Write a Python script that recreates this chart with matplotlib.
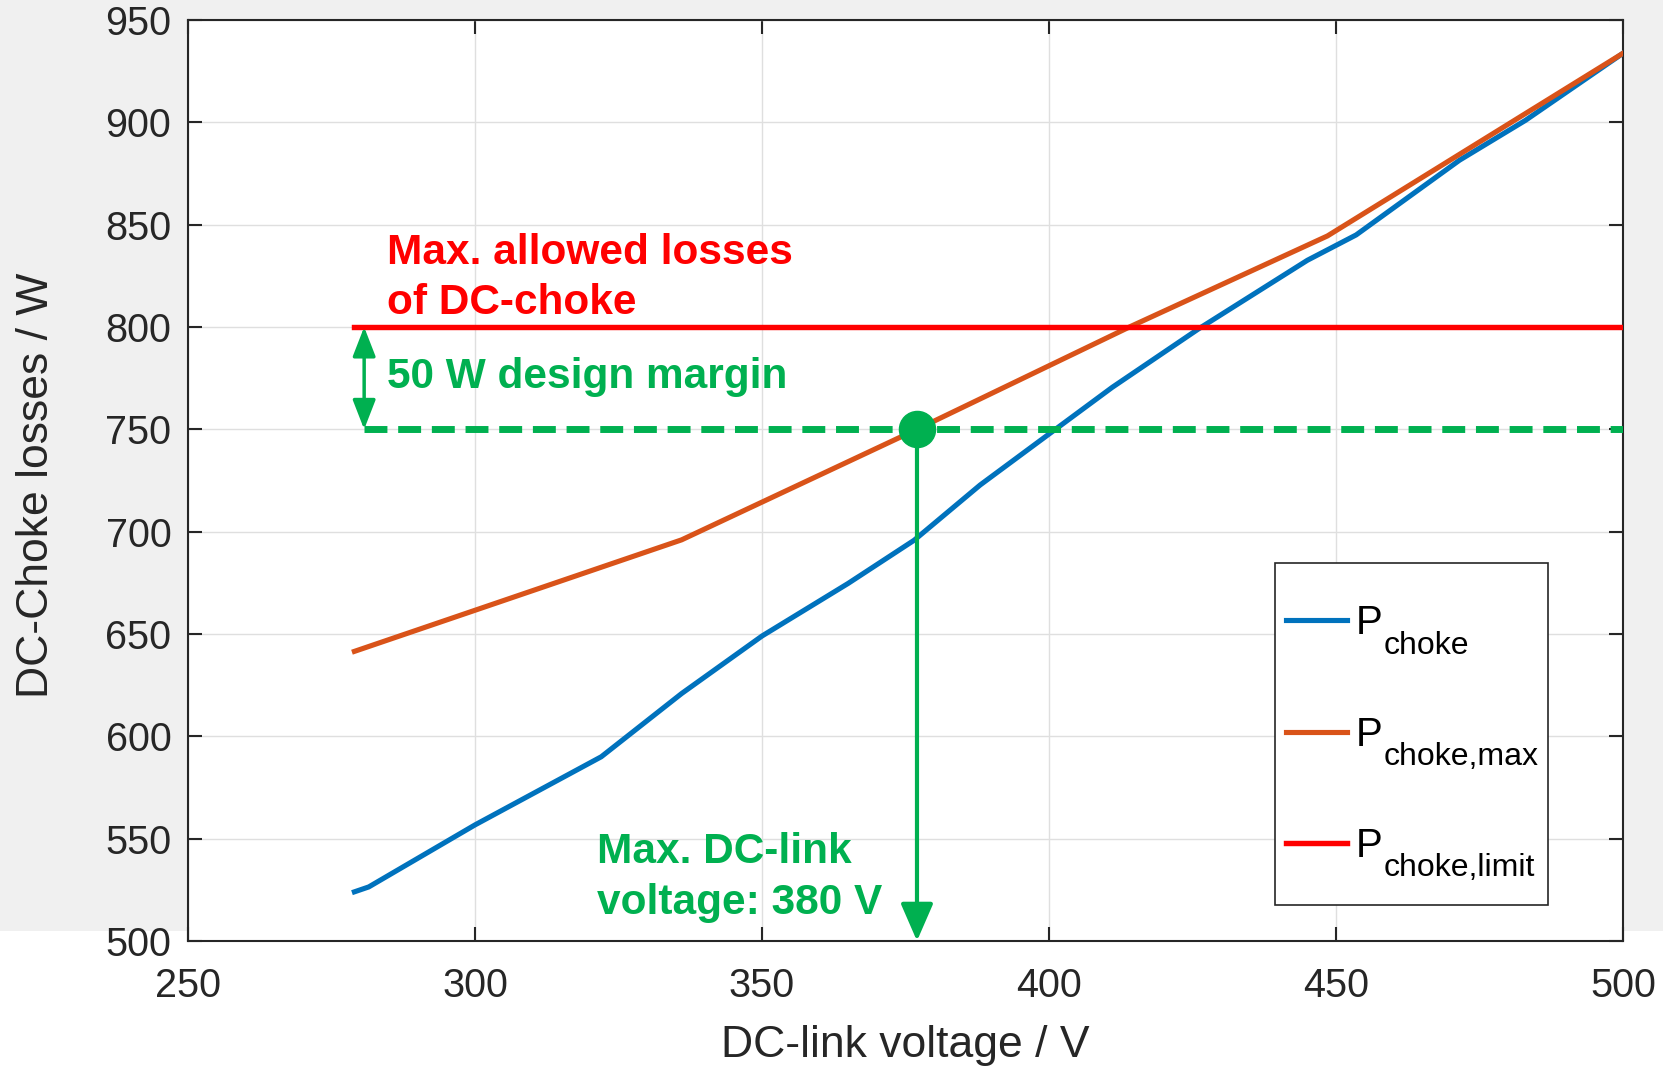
import matplotlib
matplotlib.use("Agg")
import matplotlib.pyplot as plt
from matplotlib.patches import Rectangle

plt.rcParams['font.family'] = ['Liberation Sans', 'DejaVu Sans']

# Data
v_choke = [279, 281.5, 300, 322, 336, 350, 365, 376.5, 388, 400, 411, 426, 445, 453.5, 471.5, 483, 500]
p_choke = [524, 526.4, 556.7, 590, 620.9, 649, 674.7, 695.8, 722.8, 747.7, 770.5, 799, 832.6, 845, 881.5, 901, 933.8]

v_choke_max = [279, 336, 377, 414, 448.5, 500]
p_choke_max = [641.5, 696, 750, 800, 844.5, 933.8]

v_limit = [279, 500]
p_limit = [800, 800]

v_margin = [280.7, 500]
p_margin = [750, 750]
v_max_link = 377

xticks = [250, 300, 350, 400, 450, 500]
yticks = [500, 550, 600, 650, 700, 750, 800, 850, 900, 950]
leg_subs = ['choke', 'choke,max', 'choke,limit']

BLUE = '#0072BD'
ORANGE = '#D95319'
RED = '#FF0000'
GREEN = '#00B050'
DARK = '#262626'

fig = plt.figure(figsize=(16.63, 10.66), dpi=100, facecolor='white')
# grey MATLAB figure background, the bottom strip of the image is white
fig.patches.append(Rectangle((0, 0.1266), 1, 1 - 0.1266, transform=fig.transFigure,
                             facecolor='#f0f0f0', edgecolor='none', zorder=-10))

ax = fig.add_axes([0.1130, 0.1173, 0.8630, 0.8639])
ax.set_facecolor('white')

ax.plot(v_choke, p_choke, color=BLUE, lw=3.7, label='P', zorder=3)
ax.plot(v_choke_max, p_choke_max, color=ORANGE, lw=3.7, label='P', zorder=3)
ax.plot(v_limit, p_limit, color=RED, lw=3.9, label='P', zorder=3)

ax.plot(v_margin, p_margin, color=GREEN, lw=5.0, dashes=(3.3, 1.55), zorder=4)
ax.annotate('', xy=(v_margin[0], 800), xytext=(v_margin[0], 750),
            arrowprops=dict(arrowstyle='<|-|>,head_length=0.9,head_width=0.35', mutation_scale=20,
                            color=GREEN, lw=2.5, shrinkA=0, shrinkB=0), zorder=4)
ax.annotate('', xy=(v_max_link, 500), xytext=(v_max_link, 750),
            arrowprops=dict(arrowstyle='-|>,head_length=1.15,head_width=0.5', mutation_scale=20,
                            color=GREEN, lw=3.0, shrinkA=0, shrinkB=0), zorder=4,
            annotation_clip=False)
ax.plot([v_max_link], [750], 'o', color=GREEN, ms=26, zorder=5)

ax.text(284.6, 824, 'Max. allowed losses\nof DC-choke', color=RED, fontsize=30.5,
        fontweight='bold', ha='left', va='center', linespacing=1.33)
ax.text(284.6, 775.5, '50 W design margin', color=GREEN, fontsize=30.5,
        fontweight='bold', ha='left', va='center')
ax.text(321.3, 531, 'Max. DC-link\nvoltage: 380 V', color=GREEN, fontsize=30.5,
        fontweight='bold', ha='left', va='center', linespacing=1.33)

ax.set_xlim(250, 500)
ax.set_ylim(500, 950)
ax.set_xticks(xticks)
ax.set_yticks(yticks)
ax.grid(True, color='#dfdfdf', lw=1.0, zorder=0)
ax.set_axisbelow(True)
ax.tick_params(direction='in', length=10, width=1.5, colors=DARK, labelsize=28.5,
               top=True, right=True)
ax.tick_params(axis='x', pad=19)
ax.tick_params(axis='y', pad=12)
for s in ax.spines.values():
    s.set_color(DARK)
    s.set_linewidth(1.5)

ax.set_xlabel('DC-link voltage / V', fontsize=32, color=DARK)
ax.set_ylabel('DC-Choke losses / W', fontsize=32, color=DARK)
ax.xaxis.set_label_coords(0.1130 + 0.8630 / 2, 1 - 1045 / 1066, transform=fig.transFigure)
ax.yaxis.set_label_coords(37 / 1663, 1 - 485 / 1066, transform=fig.transFigure)
ax.xaxis.label.set_va('center')
ax.yaxis.label.set_va('center')

# legend: MATLAB style box with big P and tall subscripts
box = Rectangle((1275 / 1663, 1 - 905 / 1066), 272.5 / 1663, 342.5 / 1066,
                transform=fig.transFigure, facecolor='white', edgecolor=DARK,
                lw=1.2, zorder=4.5, clip_on=False)
ax.add_patch(box)
leg = ax.legend(loc='upper left', bbox_to_anchor=(1285.5 / 1663, 1 - 604.5 / 1066),
                bbox_transform=fig.transFigure, borderaxespad=0, borderpad=0,
                fontsize=29, frameon=False, handlelength=1.52, handletextpad=0.22,
                labelspacing=1.82)
for t, sub in zip(leg.get_texts(), leg_subs):
    t.set_color('black')
    ax.annotate(sub, xy=(1, 0), xycoords=t, xytext=(1, -8), textcoords='offset points',
                fontsize=23, ha='left', va='baseline', color='black', zorder=10)

fig.savefig('out.png', dpi=100, facecolor=fig.get_facecolor())
